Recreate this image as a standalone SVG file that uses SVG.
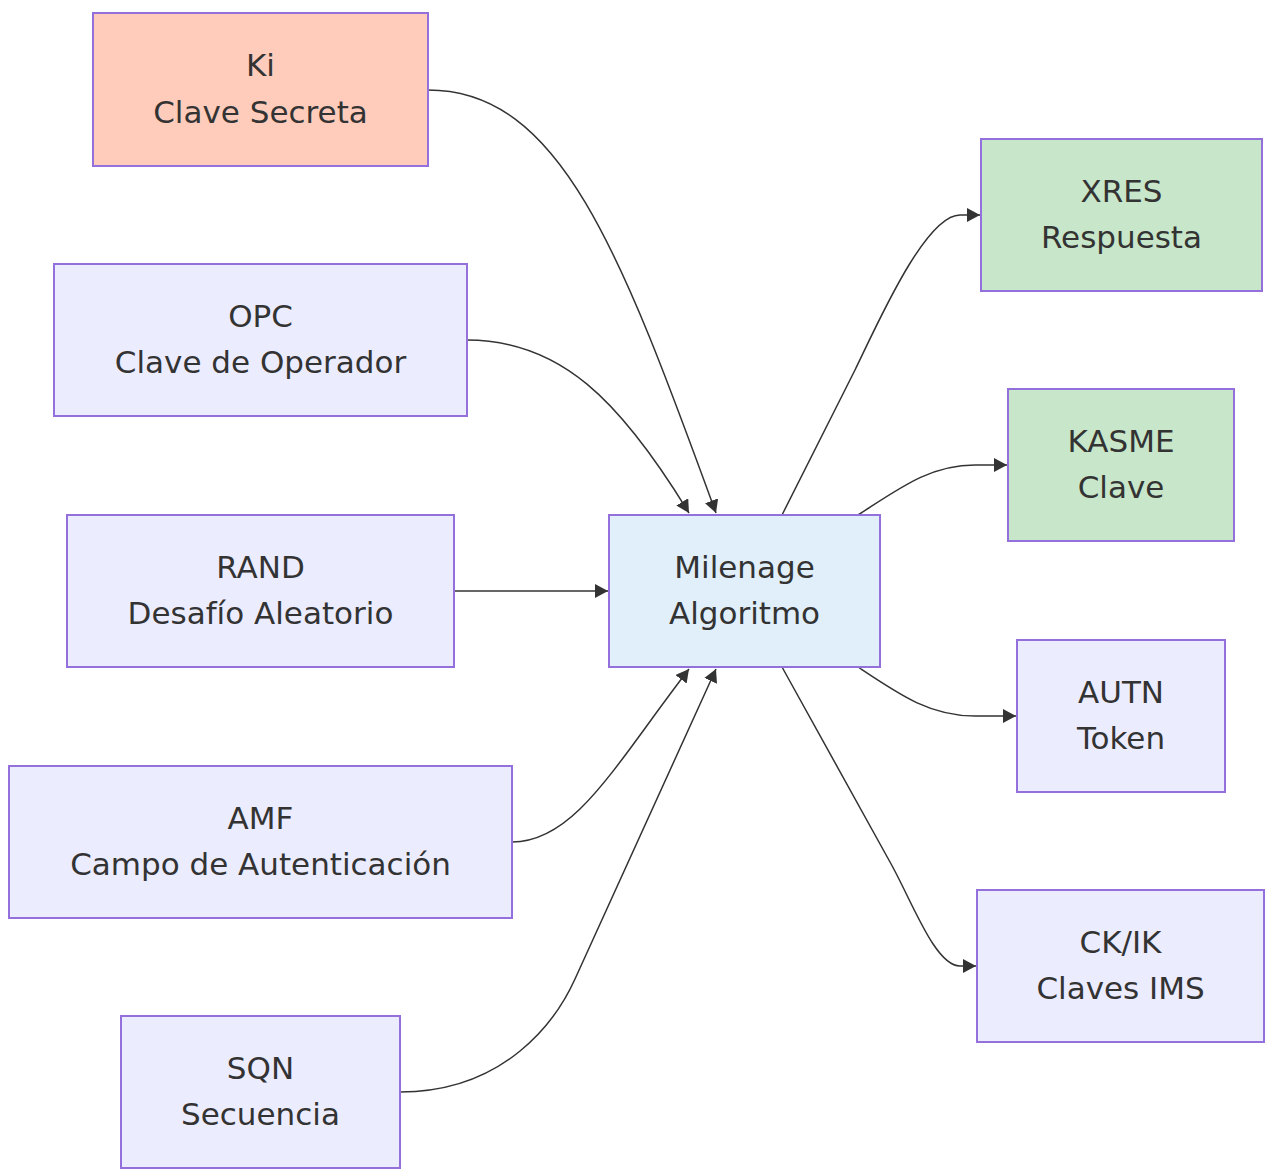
<svg xmlns="http://www.w3.org/2000/svg" width="1265" height="1169" viewBox="0 0 1265 1169">
<style>
.node rect{fill:#ECECFF;stroke:#9370DB;stroke-width:2}
.node.key rect{fill:#FFCCBC}
.node.out rect{fill:#C8E6C9}
.node.core rect{fill:#E1EFFB}
.node text{font-family:"DejaVu Sans",sans-serif;font-size:31px;fill:#333;text-anchor:middle}
.edges path{fill:none;stroke:#333;stroke-width:1.5}
</style>
<defs>
<marker id="arr" markerUnits="userSpaceOnUse" markerWidth="14" markerHeight="14" refX="13" refY="7" orient="auto">
<path d="M0,0 L13,7 L0,14 z" fill="#333"/>
</marker>
</defs>
<rect width="1265" height="1169" fill="#fff"/>
<g class="edges">
<path d="M428,90 C560,90 620,250 716,513" marker-end="url(#arr)"/>
<path d="M467,340 C560,340 620,400 689,513" marker-end="url(#arr)"/>
<path d="M454,591 L608,591" marker-end="url(#arr)"/>
<path d="M512,842 C575,842 615,765 689,669" marker-end="url(#arr)"/>
<path d="M400,1092 C505,1092 556,1021 575,979 L716,669" marker-end="url(#arr)"/>
<path d="M782,515 L855,370 C877,325 925,215 960,215 L980,215" marker-end="url(#arr)"/>
<path d="M858,515 C900,488 930,465 975,465 L1007,465" marker-end="url(#arr)"/>
<path d="M858,667 C900,695 930,716 975,716 L1016,716" marker-end="url(#arr)"/>
<path d="M782,667 L890,862 C912,901 935,966 960,966 L976,966" marker-end="url(#arr)"/>
</g>
<g id="Ki" class="node key"><rect x="93" y="13" width="335" height="153"/><text x="260.5" y="76">Ki</text><text x="260.5" y="123">Clave Secreta</text></g>
<g id="OPC" class="node"><rect x="54" y="264" width="413" height="152"/><text x="260.5" y="327">OPC</text><text x="260.5" y="373">Clave de Operador</text></g>
<g id="RAND" class="node"><rect x="67" y="515" width="387" height="152"/><text x="260.5" y="578">RAND</text><text x="260.5" y="624">Desafío Aleatorio</text></g>
<g id="AMF" class="node"><rect x="9" y="766" width="503" height="152"/><text x="260.5" y="829">AMF</text><text x="260.5" y="875">Campo de Autenticación</text></g>
<g id="SQN" class="node"><rect x="121" y="1016" width="279" height="152"/><text x="260.5" y="1079">SQN</text><text x="260.5" y="1125">Secuencia</text></g>
<g id="Milenage" class="node core"><rect x="609" y="515" width="271" height="152"/><text x="744.5" y="578">Milenage</text><text x="744.5" y="624">Algoritmo</text></g>
<g id="XRES" class="node out"><rect x="981" y="139" width="281" height="152"/><text x="1121.5" y="202">XRES</text><text x="1121.5" y="248">Respuesta</text></g>
<g id="KASME" class="node out"><rect x="1008" y="389" width="226" height="152"/><text x="1121" y="452">KASME</text><text x="1121" y="498">Clave</text></g>
<g id="AUTN" class="node"><rect x="1017" y="640" width="208" height="152"/><text x="1121" y="703">AUTN</text><text x="1121" y="749">Token</text></g>
<g id="CKIK" class="node"><rect x="977" y="890" width="287" height="152"/><text x="1120.5" y="953">CK/IK</text><text x="1120.5" y="999">Claves IMS</text></g>
</svg>
